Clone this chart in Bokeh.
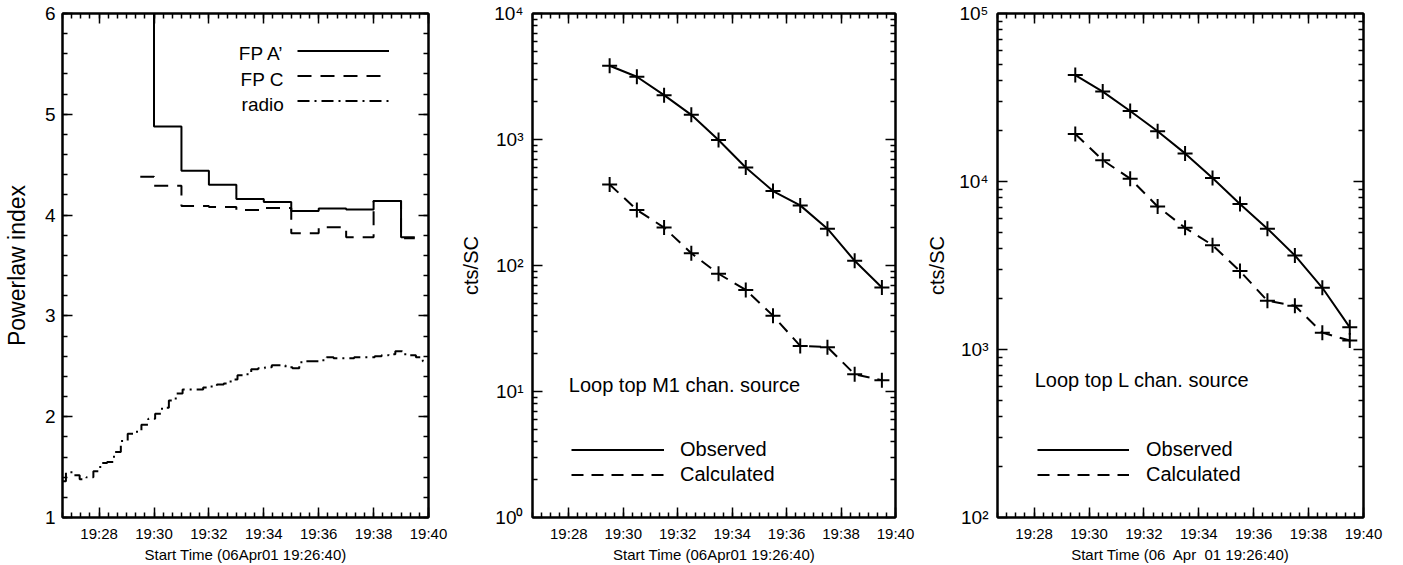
from bokeh.plotting import figure
from bokeh.layouts import row
from bokeh.models import (SingleIntervalTicker, FixedTicker, LinearAxis, LogAxis,
                          Label, Legend, LegendItem)
from bokeh.embed import file_html
from bokeh.resources import INLINE

FONT = "Liberation Sans"

# ---------------- data ----------------
x_start = "19:26:40"
x_end = "19:40:00"
x_tick_labels = ["19:28", "19:30", "19:32", "19:34", "19:36", "19:38", "19:40"]

sample_times = ["19:29:30", "19:30:30", "19:31:30", "19:32:30", "19:33:30", "19:34:30",
                "19:35:30", "19:36:30", "19:37:30", "19:38:30", "19:39:30"]

# Panel 1: power-law index (histogram style steps)
fp_a = [6.6, 4.88, 4.44, 4.30, 4.16, 4.13, 4.04, 4.065, 4.055, 4.14, 3.78]
fp_c = [4.38, 4.29, 4.09, 4.08, 4.05, 4.07, 3.82, 3.88, 3.78, 4.14, 3.77]

radio_start = "19:26:40"
radio_step_s = 15
radio = [1.36, 1.45, 1.42, 1.38, 1.40, 1.46, 1.54, 1.55, 1.65, 1.76,
         1.83, 1.85, 1.92, 1.98, 2.03, 2.09, 2.16, 2.23, 2.27, 2.27,
         2.27, 2.29, 2.30, 2.32, 2.33, 2.37, 2.41, 2.42, 2.47, 2.48,
         2.49, 2.51, 2.51, 2.49, 2.48, 2.54, 2.55, 2.55, 2.56, 2.59,
         2.58, 2.58, 2.58, 2.59, 2.59, 2.59, 2.60, 2.61, 2.62, 2.65,
         2.62, 2.61, 2.59, 2.55]

# Panel 2: loop top M1 channel source
m1_observed = [3850, 3150, 2250, 1570, 990, 600, 390, 300, 196, 109, 67]
m1_calculated = [440, 276, 200, 125, 86, 64, 40, 23, 22.5, 13.7, 12.3]
m1_y_ticks = [1, 10, 100, 1000, 10000]
m1_y_labels = ["10\u2070", "10\u00b9", "10\u00b2", "10\u00b3", "10\u2074"]

# Panel 3: loop top L channel source
l_observed = [43000, 34300, 26300, 19900, 14700, 10500, 7350, 5240, 3630, 2330, 1355]
l_calculated = [19200, 13400, 10400, 7100, 5300, 4180, 2930, 1950, 1820, 1260, 1130]
l_y_ticks = [100, 1000, 10000, 100000]
l_y_labels = ["10\u00b2", "10\u00b3", "10\u2074", "10\u2075"]


def to_min(s):
    h, m, sec = (int(v) for v in s.split(":"))
    return (h - 19) * 60 + m + sec / 60.0


tx = [to_min(t) for t in sample_times]
rx = [to_min(radio_start) + i * radio_step_s / 60.0 for i in range(len(radio))]
x_overrides = {int(round(to_min(t + ":00"))): t for t in x_tick_labels}


def style_axis(ax, show_labels=True, font_size="15px", standoff=7):
    ax.axis_line_color = "black"
    ax.axis_line_width = 2
    ax.major_tick_line_color = "black"
    ax.major_tick_line_width = 1.5
    ax.minor_tick_line_color = "black"
    ax.minor_tick_line_width = 1.5
    ax.major_tick_in = 10
    ax.major_tick_out = 0
    ax.minor_tick_in = 5
    ax.minor_tick_out = 0
    ax.major_label_text_font = FONT
    ax.axis_label_text_font = FONT
    ax.axis_label_text_font_style = "normal"
    ax.axis_label_text_color = "black"
    if show_labels:
        ax.major_label_text_color = "black"
        ax.major_label_text_font_size = font_size
        ax.major_label_standoff = standoff
    else:
        ax.major_label_text_color = None
        ax.major_label_text_font_size = "1px"
        ax.major_label_standoff = 0


def base_fig(width, bl, br, y_type, y_rng, x_label, y_label, y_ticker_fn,
             y_overrides=None, y_font="18px", y_standoff=7, y_label_size="21px",
             y_label_standoff=10):
    p = figure(width=width, height=565, x_range=(to_min(x_start), to_min(x_end)),
               y_range=y_rng, y_axis_type=y_type, output_backend="svg",
               toolbar_location=None, tools="",
               min_border_left=bl, min_border_right=br, min_border_top=13,
               min_border_bottom=45)
    p.xgrid.visible = False
    p.ygrid.visible = False
    p.outline_line_color = "black"
    p.outline_line_width = 2
    p.background_fill_color = "white"
    p.border_fill_color = "white"

    xa = p.xaxis[0]
    xa.ticker = SingleIntervalTicker(interval=2, num_minor_ticks=6)
    xa.major_label_overrides = x_overrides
    style_axis(xa, True, "15px", 7)
    xa.axis_label = x_label
    xa.axis_label_text_font_size = "15px"
    xa.axis_label_standoff = 1

    ya = p.yaxis[0]
    ya.ticker = y_ticker_fn()
    if y_overrides:
        ya.major_label_overrides = y_overrides
    style_axis(ya, True, y_font, y_standoff)
    ya.axis_label = y_label
    ya.axis_label_text_font_size = y_label_size
    ya.axis_label_standoff = y_label_standoff

    top = LinearAxis(ticker=SingleIntervalTicker(interval=2, num_minor_ticks=6))
    style_axis(top, False)
    p.add_layout(top, "above")
    if y_type == "log":
        right = LogAxis(ticker=y_ticker_fn())
    else:
        right = LinearAxis(ticker=y_ticker_fn())
    style_axis(right, False)
    p.add_layout(right, "right")
    return p


def legend_style(lg, glyph_w, standoff, font_size):
    lg.label_text_font = FONT
    lg.label_text_font_size = font_size
    lg.label_text_color = "black"
    lg.glyph_width = glyph_w
    lg.glyph_height = 25
    lg.label_height = 25
    lg.label_standoff = standoff
    lg.spacing = 0
    lg.padding = 0
    lg.margin = 0
    lg.border_line_alpha = 0
    lg.background_fill_alpha = 0


# ---------------- panel 1 ----------------
p1 = base_fig(457, 61, 29, "linear", (1, 6), "Start Time (06Apr01 19:26:40)",
              "Powerlaw index",
              lambda: SingleIntervalTicker(interval=1, num_minor_ticks=5),
              y_font="19px", y_standoff=7, y_label_size="23px", y_label_standoff=12)

r_a = p1.step(tx, fp_a, mode="center", line_color="black", line_width=2)
r_c = p1.step(tx, fp_c, mode="center", line_color="black", line_width=2,
              line_dash="14 9")
r_r = p1.step(rx, radio, mode="center", line_color="black", line_width=2,
              line_dash="12 5 2 5")

lg1 = Legend(items=[LegendItem(label=" ", renderers=[r_a]),
                    LegendItem(label=" ", renderers=[r_c]),
                    LegendItem(label=" ", renderers=[r_r])],
             location=(235, 404))
legend_style(lg1, 92, 0, "19px")
p1.add_layout(lg1)

legend1_names = ["FP A\u2019", "FP C", "radio"]
legend1_y = [5.60, 5.345, 5.10]
for name, yv in zip(legend1_names, legend1_y):
    p1.add_layout(Label(x=34.73, y=yv, text=name, text_align="right",
                        text_baseline="middle", text_font=FONT,
                        text_font_size="19px", text_color="black"))

# ---------------- panel 2 ----------------
p2 = base_fig(465, 72, 27, "log", (1, 1e4), "Start Time (06Apr01 19:26:40)", "cts/SC",
              lambda: FixedTicker(ticks=m1_y_ticks,
                                  minor_ticks=[m * 10 ** e for e in range(0, 4) for m in range(2, 10)]),
              y_overrides=dict(zip(m1_y_ticks, m1_y_labels)),
              y_font="19px", y_standoff=9, y_label_size="20px", y_label_standoff=9)

o2 = p2.line(tx, m1_observed, line_color="black", line_width=2)
c2 = p2.line(tx, m1_calculated, line_color="black", line_width=2, line_dash="12 8")
p2.scatter(tx, m1_observed, marker="cross", size=15, line_color="black", line_width=2)
p2.scatter(tx, m1_calculated, marker="cross", size=15, line_color="black", line_width=2)

lg2 = Legend(items=[LegendItem(label="Observed", renderers=[o2]),
                    LegendItem(label="Calculated", renderers=[c2])],
             location=(39, 30))
legend_style(lg2, 93, 16, "20px")
p2.add_layout(lg2)
p2.add_layout(Label(x=28.0, y=11.2, text="Loop top M1 chan. source", text_align="left",
                    text_baseline="middle", text_font=FONT, text_font_size="20px",
                    text_color="black"))

# ---------------- panel 3 ----------------
p3 = base_fig(481, 75, 40, "log", (100, 1e5), "Start Time (06\u00a0 Apr\u00a0 01 19:26:40)", "cts/SC",
              lambda: FixedTicker(ticks=l_y_ticks,
                                  minor_ticks=[m * 10 ** e for e in range(2, 5) for m in range(2, 10)]),
              y_overrides=dict(zip(l_y_ticks, l_y_labels)),
              y_font="19px", y_standoff=9, y_label_size="20px", y_label_standoff=8)

o3 = p3.line(tx, l_observed, line_color="black", line_width=2)
c3 = p3.line(tx, l_calculated, line_color="black", line_width=2, line_dash="12 8")
p3.scatter(tx, l_observed, marker="cross", size=15, line_color="black", line_width=2)
p3.scatter(tx, l_calculated, marker="cross", size=15, line_color="black", line_width=2)

lg3 = Legend(items=[LegendItem(label="Observed", renderers=[o3]),
                    LegendItem(label="Calculated", renderers=[c3])],
             location=(40, 30))
legend_style(lg3, 92, 17, "20px")
p3.add_layout(lg3)
p3.add_layout(Label(x=28.02, y=655, text="Loop top L chan. source", text_align="left",
                    text_baseline="middle", text_font=FONT, text_font_size="20px",
                    text_color="black"))

layout = row(p1, p2, p3, spacing=0)
open("out.html", "w").write(file_html(layout, INLINE))
